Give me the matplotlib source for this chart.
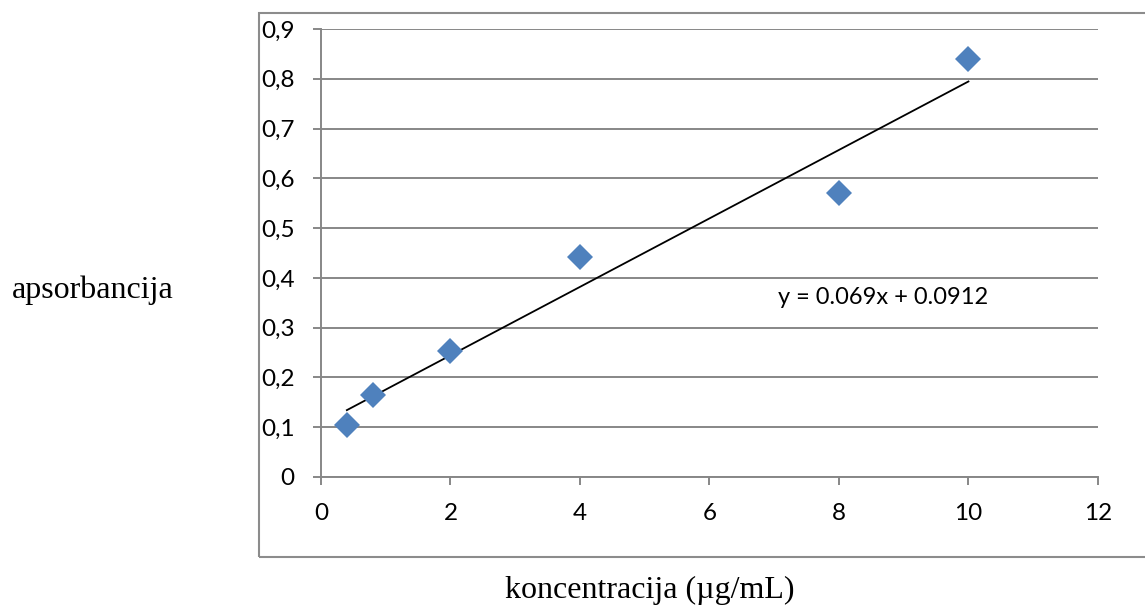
import matplotlib.pyplot as plt
from matplotlib.patches import Rectangle
import numpy as np

# concentration (ug/mL) and absorbance
konc = [0.4, 0.8, 2, 4, 8, 10]
aps = [0.105, 0.165, 0.253, 0.441, 0.571, 0.839]
x_ticks = [0, 2, 4, 6, 8, 10, 12]
y_ticks = [0, 0.1, 0.2, 0.3, 0.4, 0.5, 0.6, 0.7, 0.8, 0.9]
eq_label = "y = 0.069x + 0.0912"


def main():
    fig = plt.figure(figsize=(11.45, 6.06), dpi=100)
    ax = fig.add_axes([0.2803, 0.2129, 0.6786, 0.7392])

    # chart frame (runs off the right edge like the original)
    fig.patches.append(Rectangle((0.2262, 0.0809), 0.85, 0.8976,
                                 transform=fig.transFigure, fill=False,
                                 edgecolor='#8c8c8c', linewidth=1.5))

    ax.set_xlim(0, 12)
    ax.set_ylim(0, 0.9)
    ax.set_xticks(x_ticks)
    ax.set_yticks(y_ticks)
    ax.set_xticklabels([str(t) for t in x_ticks])
    ax.set_yticklabels(['0' if t == 0 else ('%.1f' % t).replace('.', ',')
                        for t in y_ticks])
    ax.grid(axis='y', color='#878787', linewidth=1.4)
    ax.set_axisbelow(True)
    for s in ['top', 'right']:
        ax.spines[s].set_visible(False)
    for s in ['left', 'bottom']:
        ax.spines[s].set_color('#878787')
        ax.spines[s].set_linewidth(1.4)
    ax.tick_params(direction='out', length=6, width=1.4, color='#878787',
                   labelsize=17.5)
    ax.tick_params(axis='y', pad=13)
    ax.tick_params(axis='x', pad=13)
    for lab in ax.get_xticklabels() + ax.get_yticklabels():
        lab.set_family('Lato')

    # linear trendline
    k, n = np.polyfit(konc, aps, 1)
    xs = np.array([min(konc), max(konc)])
    ax.plot(xs, k * xs + n, color='k', linewidth=1.3, zorder=3)

    ax.plot(konc, aps, 'D', color='#4f81bd', markersize=13,
            markeredgewidth=0, zorder=4, clip_on=False)

    ax.text(7.06, 0.361, eq_label, fontsize=17, family='Lato',
            va='center', ha='left')

    fig.text(0.0105, 0.5215, "apsorbancija", family='Liberation Serif',
             fontsize=23, va='center', ha='left')
    fig.text(0.5677, 0.0264, u"koncentracija (\u00b5g/mL)",
             family='Liberation Serif', fontsize=23, va='center', ha='center')

    fig.savefig('out.png', dpi=100)


if __name__ == '__main__':
    main()
